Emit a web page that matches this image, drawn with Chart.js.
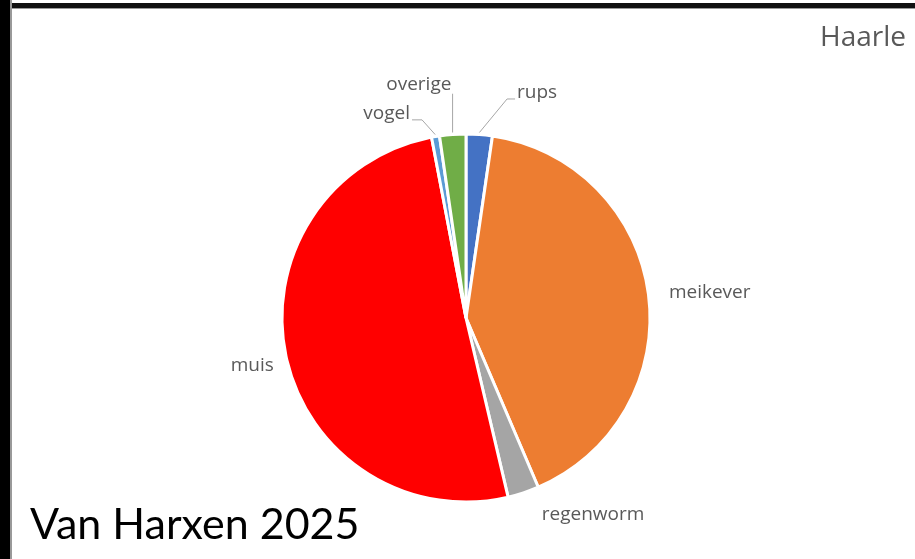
<!DOCTYPE html>
<html>
<head>
<meta charset="utf-8">
<script src="https://cdn.jsdelivr.net/npm/chart.js@4.4.1/dist/chart.umd.min.js"></script>
<style>
  html, body { margin: 0; padding: 0; background: #fff; }
  body { width: 915px; height: 559px; position: relative; overflow: hidden; }
  #wrap { position: absolute; left: 0; top: 0; width: 915px; height: 559px; }
  .frameTop { position: absolute; left: 0; top: 3px; width: 915px; height: 5px; background: #111; border-bottom: 1px solid #999; }
  .frameLeft { position: absolute; left: 0; top: 0; width: 10px; height: 559px; background: #000; border-right: 2px solid #999; }
  .title { position: absolute; left: 820px; top: 16px; font: 28px "Open Sans", sans-serif; color: #595959; white-space: nowrap; }
  .credit { position: absolute; left: 30px; top: 497px; font: 43px "Lato", sans-serif; color: #000; white-space: nowrap; }
</style>
</head>
<body>
<div id="wrap"><canvas id="pie"></canvas></div>
<div class="frameTop"></div>
<div class="frameLeft"></div>
<div class="title">Haarle</div>
<div class="credit">Van Harxen 2025</div>
<script>
// prooi (percentages)
const categories = ['rups', 'meikever', 'regenworm', 'muis', 'vogel', 'overige'];
const shares = [2.3, 41.3, 2.75, 50.7, 0.7, 2.3];
const sliceColors = ['#4472C4', '#ED7D31', '#A5A5A5', '#FF0000', '#5B9BD5', '#70AD47'];

// label placement (degrees shifted from slice middle, distance from centre)
const labelShift = [13.4, 1.5, -14.7, -0.6, -11.7, -7.3];
const labelDist = [236, 245, 234, 219, 219, 238];
const leader = ['right', null, null, null, 'left', 'up'];

const sliceLabels = {
  id: 'sliceLabels',
  afterDatasetsDraw(chart) {
    const ctx = chart.ctx;
    const meta = chart.getDatasetMeta(0);
    ctx.save();
    ctx.font = '19px "Open Sans"';
    ctx.fillStyle = '#595959';
    ctx.strokeStyle = '#A6A6A6';
    ctx.lineWidth = 1;
    ctx.textBaseline = 'middle';
    ctx.textAlign = 'center';
    meta.data.forEach((arc, i) => {
      const p = arc.getProps(['x', 'y', 'startAngle', 'endAngle', 'outerRadius'], true);
      const mid = (p.startAngle + p.endAngle) / 2;
      const a = mid + labelShift[i] * Math.PI / 180;
      const lx = p.x + labelDist[i] * Math.cos(a);
      const ly = p.y + labelDist[i] * Math.sin(a);
      const txt = chart.data.labels[i];
      const w = ctx.measureText(txt).width;
      ctx.fillText(txt, lx, ly);
      if (!leader[i]) return;
      const x0 = p.x + (p.outerRadius + 2) * Math.cos(mid);
      const y0 = p.y + (p.outerRadius + 2) * Math.sin(mid);
      ctx.beginPath();
      ctx.moveTo(x0, y0);
      if (leader[i] === 'right') {
        const ex = lx - w / 2 - 2, ey = ly + 6;
        ctx.lineTo(ex - 8, ey);
        ctx.lineTo(ex, ey);
      } else if (leader[i] === 'left') {
        const ex = lx + w / 2 + 2, ey = ly + 6;
        ctx.lineTo(ex + 10, ey);
        ctx.lineTo(ex, ey);
      } else {
        ctx.lineTo(x0, ly + 9);
      }
      ctx.stroke();
    });
    ctx.restore();
  }
};

new Chart(document.getElementById('pie'), {
  type: 'pie',
  data: {
    labels: categories,
    datasets: [{
      data: shares,
      backgroundColor: sliceColors,
      borderColor: '#ffffff',
      borderWidth: 3,
      radius: 184
    }]
  },
  options: {
    responsive: true,
    maintainAspectRatio: false,
    animation: false,
    layout: { padding: { left: 17, right: 0, top: 77, bottom: 0 } },
    plugins: {
      legend: { display: false },
      tooltip: { enabled: false }
    }
  },
  plugins: [sliceLabels]
});
</script>
</body>
</html>
